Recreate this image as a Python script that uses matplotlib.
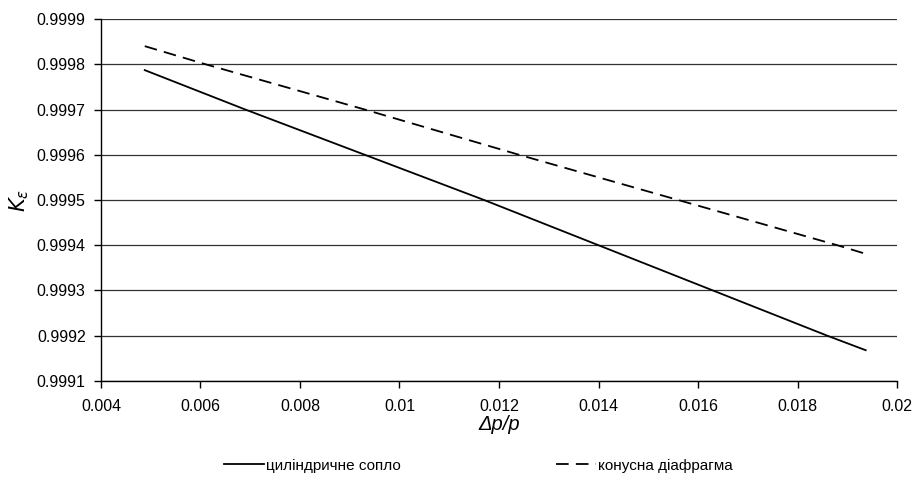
import numpy as np
import matplotlib
matplotlib.use("Agg")
import matplotlib.pyplot as plt
from matplotlib import font_manager

# values
x_cyl = [0.00488, 0.0069, 0.0093, 0.0117, 0.0140, 0.0163, 0.0186, 0.01937]
k_cyl = [0.999787, 0.99970, 0.99960, 0.99950, 0.99940, 0.99930, 0.99920, 0.999168]

x_cone = [0.00488, 0.0061, 0.0093, 0.0124, 0.0156, 0.0188, 0.01937]
k_cone = [0.999840, 0.99980, 0.99970, 0.99960, 0.99950, 0.99940, 0.999381]

x_ticks = [0.004, 0.006, 0.008, 0.01, 0.012, 0.014, 0.016, 0.018, 0.02]
x_labels = ["0.004", "0.006", "0.008", "0.01", "0.012", "0.014", "0.016", "0.018", "0.02"]
y_ticks = [0.9991, 0.9992, 0.9993, 0.9994, 0.9995, 0.9996, 0.9997, 0.9998, 0.9999]

names = {f.name for f in font_manager.fontManager.ttflist}
fam = "Liberation Sans Narrow" if "Liberation Sans Narrow" in names else "Liberation Sans"
plt.rcParams["font.family"] = [fam, "DejaVu Sans"]
plt.rcParams["mathtext.fontset"] = "dejavusans"


def main():
    fig = plt.figure(figsize=(9.13, 4.8), dpi=100)
    ax = fig.add_axes([0.1106, 0.2063, 0.8719, 0.7541])

    ax.plot(x_cyl, k_cyl, color="black", lw=1.3, label="циліндричне сопло")
    ax.plot(x_cone, k_cone, color="black", lw=1.3, dashes=(7, 4),
            label="конусна діафрагма")

    ax.set_xlim(0.004, 0.02)
    ax.set_ylim(0.9991, 0.9999)
    ax.set_xticks(x_ticks)
    ax.set_xticklabels(x_labels)
    ax.set_yticks(y_ticks)
    ax.set_yticklabels([f"{v:.4f}" for v in y_ticks])
    ax.yaxis.grid(True, color="#333333", lw=0.9)
    ax.set_axisbelow(True)

    for s in ["top", "right"]:
        ax.spines[s].set_visible(False)
    for s in ["left", "bottom"]:
        ax.spines[s].set_linewidth(1.0)

    ax.tick_params(direction="out", length=5, width=1, labelsize=11.5,
                   colors="black")
    ax.tick_params(axis="x", pad=8)
    ax.tick_params(axis="y", pad=6)

    ax.set_xlabel("Δp/p", fontsize=14.5, style="italic", labelpad=1)
    ax.set_ylabel(r"$K_\varepsilon$", fontsize=15, labelpad=4)

    fig.legend(loc="center", bbox_to_anchor=(0.524, 0.03), ncol=2,
               frameon=False, fontsize=11, handlelength=2.6,
               handletextpad=0.1, columnspacing=10.2)

    fig.savefig("out.png", dpi=100)


if __name__ == "__main__":
    main()
